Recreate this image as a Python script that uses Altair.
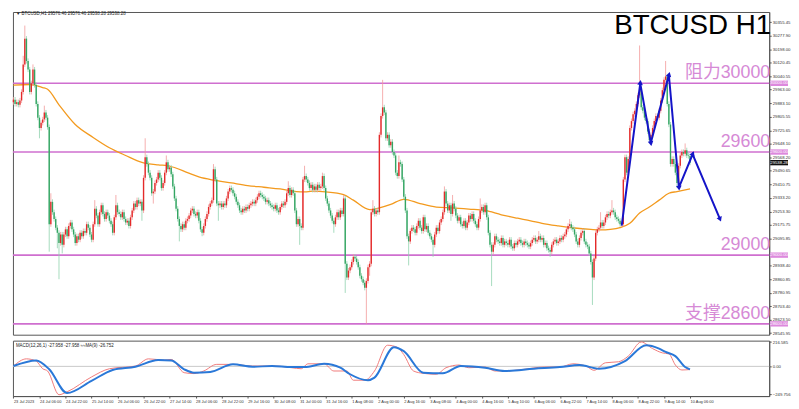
import math
import json
import altair as alt
import pandas as pd

# ---------------- data ----------------
closes = [
    29905, 29880, 29890, 29875, 29900, 29950, 30110, 30260, 30130, 30080,
    29950, 30000, 30080, 29990, 29880, 29800, 29740, 29770, 29790, 29830,
    29800, 29745, 29180, 29310, 29250, 29210, 29160, 29130, 29070, 29120,
    29060, 29120, 29150, 29110, 29170, 29190, 29150, 29120, 29070, 29110,
    29090, 29130, 29110, 29140, 29130, 29180, 29160, 29120, 29090, 29180,
    29270, 29230, 29180, 29250, 29290, 29240, 29210, 29250, 29230, 29200,
    29180, 29130, 29220, 29290, 29250, 29240, 29220, 29250, 29210, 29190,
    29200, 29170, 29220, 29260, 29300, 29280, 29320, 29300, 29310, 29260,
    29450, 29570, 29530, 29480, 29450, 29360, 29370, 29420, 29440, 29480,
    29450, 29390, 29420, 29480, 29540, 29500, 29510, 29470, 29400, 29330,
    29270, 29210, 29170, 29150, 29180, 29160, 29200, 29210, 29230, 29260,
    29270, 29240, 29230, 29250, 29200, 29150, 29130, 29170, 29210, 29240,
    29280, 29300, 29320, 29500, 29440, 29300, 29290, 29300, 29280, 29300,
    29290, 29330, 29370, 29390, 29380, 29360, 29340, 29310, 29290, 29260,
    29250, 29270, 29260, 29280, 29270, 29290, 29300, 29310, 29300, 29320,
    29340, 29360, 29350, 29340, 29330, 29310, 29320, 29300, 29290, 29280,
    29270, 29290, 29260, 29250, 29280, 29300, 29290, 29310, 29360, 29390,
    29350, 29380, 29360, 29260, 29180, 29210, 29170, 29160, 29440, 29460,
    29440, 29420, 29390, 29410, 29380, 29400, 29380, 29410, 29390, 29400,
    29460, 29390, 29330, 29300, 29260, 29230, 29200, 29180, 29220, 29250,
    29220, 29260, 29240, 29330, 28950, 28870, 28910, 28930, 28960, 28990,
    28980, 28960, 28930, 28880, 28860, 28840, 28810, 28850, 28930, 28950,
    29250, 29270, 29240, 29260, 29250, 29700, 29810, 29860, 29830, 29680,
    29700, 29640, 29660, 29600, 29580, 29480, 29460, 29540, 29530, 29440,
    29340, 29260, 29110, 29080, 29140, 29160, 29150, 29130, 29170, 29200,
    29160, 29140, 29220, 29150, 29170, 29130, 29110, 29090, 29060, 29120,
    29160, 29140, 29190, 29210, 29250, 29370, 29300, 29260, 29290, 29240,
    29300, 29270, 29230, 29200, 29220, 29180, 29170, 29200, 29160, 29190,
    29230, 29210, 29240, 29200, 29180, 29160, 29210, 29260, 29280, 29250,
    29290, 29220, 29130, 29060, 29020, 29060, 29110, 29090, 29080, 29070,
    29100, 29060, 29080, 29070, 29060, 29090, 29050, 29040, 29070, 29060,
    29080, 29090, 29070, 29060, 29080, 29070, 29060, 29050, 29070, 29090,
    29100, 29080, 29090, 29110, 29090, 29100, 29060, 29070, 29040, 29030,
    29020, 29060, 29080, 29090, 29070, 29080, 29100, 29090, 29110, 29120,
    29150, 29170, 29180, 29160, 29150, 29120, 29080, 29060, 29100, 29130,
    29140, 29080, 29060, 29050, 29010, 28960, 28870, 28980, 29130, 29150,
    29160, 29190, 29170, 29190, 29220, 29240, 29230, 29250, 29260, 29250,
    29220, 29210, 29200, 29180, 29180, 29440, 29570, 29480, 29560, 29740,
    29780, 29820, 29840, 29880, 29930, 29960, 29860, 29840, 29800, 29780,
    29720, 29670, 29700, 29740, 29780, 29810, 29800, 29840, 29900, 29960,
    30020, 30040, 29880, 29760, 29530, 29560, 29530, 29480, 29420, 29520,
    29580, 29600, 29590, 29610, 29580, 29576.46, 29538.28,
]
first_open = 29890.0
high_marks = {6: 30160, 7: 30336, 12: 30110, 19: 29870, 23: 29360, 50: 29320,
              63: 29350, 81: 29680, 94: 29580, 123: 29530, 169: 29430,
              179: 29520, 190: 29480, 203: 29350, 221: 29320, 227: 30020,
              237: 29580, 265: 29400, 270: 29350, 287: 29330, 323: 29140,
              342: 29210, 361: 29250, 368: 29320, 385: 30220, 401: 30130,
              413: 29650}
low_marks = {16: 29680, 22: 29020, 27: 29040, 28: 28860, 30: 29010, 79: 29200,
             86: 29300, 102: 29080, 116: 29110, 126: 29200, 176: 29060,
             197: 29130, 204: 28780, 217: 28600, 219: 28880, 243: 28940,
             258: 28990, 269: 29200, 294: 28820, 330: 28990, 356: 28710,
             408: 29390}
wick_pad = 15

ma_bar = [0, 10, 18, 21, 28, 38, 49, 59, 69, 79, 89, 95, 99, 107, 114, 124,
          134, 144, 154, 164, 174, 179, 184, 192, 203, 209, 219, 225, 232, 240,
          250, 260, 270, 280, 290, 300, 310, 318, 325, 335, 345, 355, 361, 367,
          373, 379, 385, 391, 397, 403, 408, 416]
ma_val = [29990, 29993, 29975, 29965, 29875, 29760, 29685, 29625, 29580, 29540,
          29525, 29520, 29510, 29480, 29455, 29435, 29420, 29405, 29395, 29385,
          29370, 29368, 29372, 29368, 29352, 29320, 29265, 29275, 29295, 29325,
          29300, 29280, 29275, 29268, 29260, 29235, 29215, 29200, 29185, 29170,
          29158, 29150, 29147, 29150, 29160, 29185, 29245, 29280, 29320, 29360,
          29370, 29385]

levels = [30000, 29600, 29000, 28600]
level_texts = ["阻力30000", "29600", "29000", "支撑28600"]

path_bar = [374, 385.4, 391.9, 403, 409.2, 417.6, 434.3]
path_price = [29172, 30000, 29654, 30048, 29395, 29587, 29213]

sig_bar = [0, 14, 22, 33, 48, 61, 75, 89, 97, 105, 111, 121, 135, 147, 159, 171,
           179, 191, 201, 207, 218, 222, 234, 240, 252, 264, 275, 290, 302, 320,
           336, 348, 360, 376, 389, 397, 401, 407, 413, 416]
sig_val = [3, 53, -26, -237, -129, -32, -3, 56, 53, -26, -56, -50, 18, -3, 3, -6,
           -6, 23, -12, -70, -123, -100, 170, 135, -56, -62, 3, -12, -41, -21,
           -6, 12, -21, 47, 188, 158, 129, 91, -6, -27]
macd_bar = [0, 8, 14, 18, 21, 28, 33, 48, 59, 75, 83, 93, 97, 105, 111, 117, 125,
            135, 147, 161, 171, 177, 181, 191, 197, 205, 209, 216, 222, 230, 236,
            240, 246, 252, 260, 266, 274, 280, 290, 296, 302, 314, 326, 336, 344,
            352, 357, 364, 372, 378, 386, 393, 399, 403, 407, 411, 416]
macd_val = [3, 67, 47, -21, -41, -252, -226, -94, -21, 3, 67, 56, 62, -56, -64,
            -41, 18, 18, 3, 3, -12, -21, 23, 23, -41, -41, -123, -123, -41, 188,
            170, 105, -41, -62, -70, -12, 12, -12, -6, -41, -41, -26, -6, -6, 23,
            3, -35, 32, 41, 91, 217, 158, 120, 111, 12, -32, -28]

price_ticks = [30355.45, 30277.90, 30198.00, 30120.45, 30040.55, 29963.00,
               29883.10, 29805.55, 29725.65, 29648.10, 29568.20, 29490.65,
               29410.75, 29333.20, 29253.30, 29175.75, 29095.85,
               28938.40, 28860.85, 28780.95, 28703.40, 28623.50, 28545.95]
macd_ticks = [216.585, 0, -249.756]
x_labels = ["23 Jul 2023", "24 Jul 06:00", "24 Jul 22:00", "25 Jul 14:00",
            "26 Jul 06:00", "26 Jul 22:00", "27 Jul 14:00", "28 Jul 06:00",
            "28 Jul 22:00", "29 Jul 16:00", "30 Jul 08:00", "31 Jul 00:00",
            "31 Jul 16:00", "1 Aug 08:00", "2 Aug 00:00", "2 Aug 16:00",
            "3 Aug 08:00", "4 Aug 00:00", "4 Aug 16:00", "5 Aug 10:00",
            "6 Aug 06:00", "6 Aug 22:00", "7 Aug 14:00", "8 Aug 06:00",
            "8 Aug 22:00", "9 Aug 14:00", "10 Aug 06:00"]
label_step = 16
header_text = "▼ BTCUSD,H1  29576.46 29576.46 29538.28 29538.28"
macd_text = "MACD(12,26,1) -27.958 -27.958  ≈≈MA(9) -26.752"
last_price = 29538.28

# ---------------- layout / style ----------------
W = 764
H_MAIN = 326
H_MACD = 56
X_DOM = [-0.3, 464.7]
Y_DOM = [28537, 30415]
M_DOM = [-264, 229]
UP = "#e42a2a"
DOWN = "#33a562"
UP_W = "#f29a9a"
DOWN_W = "#8fd2ae"
PINK = "#cf6fcf"
PINK_TXT = "#d68ad6"
BLUE = "#1414c8"
FONT = "Liberation Sans, Noto Sans CJK SC"
TICK_FS = 4.3

opens = [first_open] + closes[:-1]
rows = []
for i, c in enumerate(closes):
    o = opens[i]
    rows.append({
        "bar": i, "open": o, "close": c,
        "high": high_marks.get(i, max(o, c) + wick_pad),
        "low": low_marks.get(i, min(o, c) - wick_pad),
    })
df = pd.DataFrame(rows)

xs = alt.Scale(domain=X_DOM, nice=False, zero=False)
ys = alt.Scale(domain=Y_DOM, nice=False, zero=False)
ms = alt.Scale(domain=M_DOM, nice=False, zero=False)

y_axis = alt.Axis(orient="right", values=price_ticks, format=".2f", title=None,
                  grid=False, labelFontSize=TICK_FS, labelFont=FONT,
                  labelColor="#333", tickSize=2, tickColor="#555",
                  domainColor="#555", labelOverlap=False, labelPadding=1,
                  labelBound=False, labelFlush=False)


def Y(field):
    return alt.Y(field, scale=ys, axis=y_axis)


def X(field="bar:Q"):
    return alt.X(field, scale=xs, axis=None)


is_up = "datum.close >= datum.open"

levels_df = pd.DataFrame({"price": levels, "txt": level_texts,
                          "box": [f"{v:.2f}" for v in levels]})

hlines = alt.Chart(levels_df).mark_rule(color=PINK, strokeWidth=1.6).encode(
    y=Y("price:Q"))

ma_df = pd.DataFrame({"bar": ma_bar, "ma": ma_val})
ma_line = alt.Chart(ma_df).mark_line(color="#f39a1e", strokeWidth=1.3,
                                     interpolate="monotone").encode(
    x=X(), y=Y("ma:Q"))

wicks = alt.Chart(df).mark_rule(strokeWidth=0.8).encode(
    x=X(), y=Y("low:Q"), y2="high:Q",
    color=alt.condition(is_up, alt.value(UP_W), alt.value(DOWN_W)))

bodies = alt.Chart(df).mark_rule(strokeWidth=1.4).encode(
    x=X(), y=Y("open:Q"), y2="close:Q",
    color=alt.condition(is_up, alt.value(UP), alt.value(DOWN)))

path_df = pd.DataFrame({"bar": path_bar, "price": path_price,
                        "k": list(range(len(path_bar)))})
path_line = alt.Chart(path_df).mark_line(color=BLUE, strokeWidth=2).encode(
    x=X(), y=Y("price:Q"), order="k:Q")

pxb = W / (X_DOM[1] - X_DOM[0])
pxp = H_MAIN / (Y_DOM[1] - Y_DOM[0])
heads = []
for j in range(1, len(path_bar)):
    db = (path_bar[j] - path_bar[j - 1]) * pxb
    dp = (path_price[j] - path_price[j - 1]) * pxp
    ang = math.degrees(math.atan2(db, dp)) % 360
    heads.append({"bar": path_bar[j], "price": path_price[j], "ang": ang})
heads_df = pd.DataFrame(heads)
arrow_heads = alt.Chart(heads_df).mark_point(shape="triangle", filled=True,
                                             size=32, color=BLUE, opacity=1).encode(
    x=X(), y=Y("price:Q"), angle=alt.Angle("ang:Q", scale=None))

level_txt = alt.Chart(levels_df).mark_text(align="right", baseline="bottom",
                                           fontSize=18, font=FONT, color=PINK_TXT,
                                           dy=-1).encode(
    x=alt.value(W + 1), y=Y("price:Q"), text="txt:N")

box_shape = "M-1,-0.3L1,-0.3L1,0.3L-1,0.3Z"
level_box = alt.Chart(levels_df).mark_point(shape=box_shape, filled=True, size=324,
                                            color="#dd88dd", opacity=1).encode(
    x=alt.value(W + 10), y=Y("price:Q"))
level_box_txt = alt.Chart(levels_df).mark_text(fontSize=TICK_FS, font=FONT,
                                               color="white",
                                               baseline="middle").encode(
    x=alt.value(W + 10), y=Y("price:Q"), text="box:N")

last_df = pd.DataFrame({"price": [last_price], "t": [f"{last_price:.2f}"]})
last_box = alt.Chart(last_df).mark_point(shape=box_shape, filled=True, size=324,
                                         color="#111111", opacity=1).encode(
    x=alt.value(W + 10), y=Y("price:Q"))
last_txt = alt.Chart(last_df).mark_text(fontSize=TICK_FS, font=FONT, color="white",
                                        baseline="middle").encode(
    x=alt.value(W + 10), y=Y("price:Q"), text="t:N")

title_df = pd.DataFrame({"t": ["BTCUSD H1"]})
title_txt = alt.Chart(title_df).mark_text(align="right", baseline="alphabetic",
                                          fontSize=28, font=FONT, color="black").encode(
    x=alt.value(W + 2), y=alt.value(22), text="t:N")

head_df = pd.DataFrame({"t": [header_text]})
head_txt = alt.Chart(head_df).mark_text(align="left", baseline="middle",
                                        fontSize=4.5, font=FONT, color="#222").encode(
    x=alt.value(3), y=alt.value(2), text="t:N")

main = alt.layer(hlines, ma_line, wicks, bodies, path_line, arrow_heads,
                 level_txt, title_txt, head_txt, level_box, level_box_txt,
                 last_box, last_txt).properties(width=W, height=H_MAIN)

# ---------------- MACD panel ----------------
label_expr = json.dumps(x_labels) + f"[round(datum.value / {label_step})]"
x_axis = alt.Axis(values=[label_step * k for k in range(len(x_labels))],
                  labelExpr=label_expr, title=None, grid=False, labelFontSize=4,
                  labelFont=FONT, labelColor="#333", labelAlign="left",
                  labelPadding=1, tickSize=2, tickColor="#555", domainColor="#555",
                  labelOverlap=False, labelBound=False, labelFlush=False)
m_axis = alt.Axis(orient="right", values=macd_ticks,
                  labelExpr="datum.value == 0 ? '0.00' : format(datum.value, '.3f')",
                  title=None, grid=False, labelFontSize=TICK_FS, labelFont=FONT,
                  labelColor="#333", tickSize=2, tickColor="#555",
                  domainColor="#555", labelOverlap=False, labelBound=False,
                  labelFlush=False, labelPadding=1)


def MX(field="bar:Q"):
    return alt.X(field, scale=xs, axis=x_axis)


def MY(field):
    return alt.Y(field, scale=ms, axis=m_axis)


zero_df = pd.DataFrame({"v": [0], "bar": [0]})
zero_line = alt.Chart(zero_df).mark_rule(color="#c8c8c8", strokeWidth=1).encode(
    y=MY("v:Q"))

macd_df = pd.DataFrame({"bar": macd_bar, "v": macd_val})
sig_df = pd.DataFrame({"bar": sig_bar, "v": sig_val})
macd_line = alt.Chart(macd_df).mark_line(color="#f07a7a", strokeWidth=1,
                                         interpolate="monotone").encode(
    x=MX(), y=MY("v:Q"))
sig_line = alt.Chart(sig_df).mark_line(color="#2a78d8", strokeWidth=2,
                                       interpolate="monotone").encode(
    x=MX(), y=MY("v:Q"))
mtxt_df = pd.DataFrame({"t": [macd_text]})
macd_head = alt.Chart(mtxt_df).mark_text(align="left", baseline="middle",
                                         fontSize=4.5, font=FONT, color="#222").encode(
    x=alt.value(3), y=alt.value(5), text="t:N")

macd = alt.layer(zero_line, macd_line, sig_line, macd_head).properties(
    width=W, height=H_MACD)

chart = alt.vconcat(main, macd, spacing=2).properties(
    padding={"left": 0, "top": 0, "right": 0, "bottom": 0},
    background="white").configure_view(stroke="#555", strokeWidth=1)

chart.save("out.html", embed_options={"renderer": "svg", "actions": False})
